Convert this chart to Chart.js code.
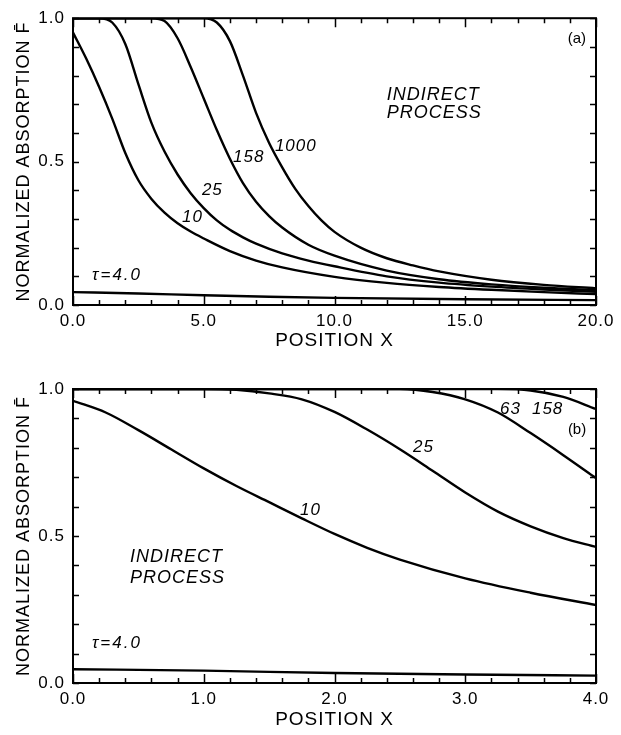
<!DOCTYPE html>
<html>
<head>
<meta charset="utf-8">
<title>Normalized absorption vs position</title>
<script src="https://cdn.jsdelivr.net/npm/chart.js@4.4.1/dist/chart.umd.min.js"></script>
<style>
  html, body { margin: 0; padding: 0; background: #fff; }
  canvas { display: block; }
</style>
</head>
<body>
<canvas id="chartA" width="621" height="360"></canvas>
<canvas id="chartB" width="621" height="375"></canvas>
<script>
// Panel (a): position 0..20
const a10X = [0, 0.5, 1, 1.5, 2, 2.5, 3, 3.5, 4, 4.5, 5, 6, 7, 8, 10, 12, 14, 16, 18, 20];
const a10Y = [0.95, 0.86, 0.76, 0.65, 0.53, 0.435, 0.37, 0.322, 0.285, 0.256, 0.232, 0.188, 0.155, 0.131, 0.098, 0.077, 0.063, 0.053, 0.045, 0.038];
const a25X = [0, 1, 1.5, 2, 2.5, 3, 3.5, 4, 4.5, 5, 5.5, 6, 6.5, 7, 8, 9, 10, 12, 14, 16, 18, 20];
const a25Y = [1, 1, 0.985, 0.91, 0.77, 0.635, 0.535, 0.455, 0.39, 0.338, 0.295, 0.262, 0.236, 0.214, 0.18, 0.155, 0.135, 0.1, 0.078, 0.064, 0.054, 0.046];
const a158X = [0, 3, 3.5, 4, 4.5, 5, 5.5, 6, 6.5, 7, 7.5, 8, 9, 10, 12, 14, 16, 18, 20];
const a158Y = [1, 1, 0.99, 0.93, 0.83, 0.72, 0.61, 0.51, 0.425, 0.36, 0.31, 0.27, 0.21, 0.172, 0.12, 0.09, 0.072, 0.06, 0.052];
const a1000X = [0, 5, 5.5, 6, 6.5, 7, 7.5, 8, 8.5, 9, 9.5, 10, 11, 12, 13, 14, 16, 18, 20];
const a1000Y = [1, 1, 0.985, 0.92, 0.8, 0.67, 0.565, 0.48, 0.405, 0.345, 0.295, 0.255, 0.2, 0.163, 0.138, 0.117, 0.088, 0.07, 0.058];
const aTauX = [0, 2.5, 5, 7.5, 10, 15, 20];
const aTauY = [0.045, 0.04, 0.034, 0.029, 0.025, 0.02, 0.017];
const aXLabels = [0, 5, 10, 15, 20];

// Panel (b): position 0..4
const b10X = [0, 0.25, 0.5, 0.75, 1, 1.25, 1.5, 1.75, 2, 2.25, 2.5, 3, 3.5, 4];
const b10Y = [0.96, 0.92, 0.86, 0.795, 0.73, 0.67, 0.615, 0.56, 0.507, 0.46, 0.42, 0.356, 0.307, 0.265];
const b25X = [0, 1, 1.25, 1.5, 1.75, 2, 2.25, 2.5, 2.75, 3, 3.25, 3.5, 3.75, 4];
const b25Y = [1, 1, 0.997, 0.985, 0.965, 0.922, 0.862, 0.795, 0.722, 0.648, 0.583, 0.533, 0.493, 0.463];
const b63X = [0, 2.5, 2.75, 3, 3.25, 3.5, 3.75, 4];
const b63Y = [1, 1, 0.99, 0.965, 0.92, 0.85, 0.775, 0.697];
const b158X = [0, 3.25, 3.5, 3.75, 4];
const b158Y = [1, 1, 0.995, 0.973, 0.932];
const bTauX = [0, 1, 2, 3, 4];
const bTauY = [0.047, 0.042, 0.034, 0.029, 0.025];
const bXLabels = [0, 1, 2, 3, 4];

const yLabels = [0, 0.5, 1];
const FONT = "'Liberation Sans', Arial, sans-serif";

Chart.defaults.font.family = FONT;
Chart.defaults.color = "#000";

// the old plot lettering is spaced out a little
const spacing = {
  id: "spacing",
  beforeDraw(chart) {
    chart.ctx.letterSpacing = "1px";
  },
};

// frame box with inward ticks on all four sides
const frameTicks = {
  id: "frameTicks",
  afterDatasetsDraw(chart, args, opts) {
    const { ctx, chartArea: a, scales } = chart;
    const x = scales.x, y = scales.y;
    ctx.save();
    ctx.strokeStyle = "#000";
    ctx.lineWidth = 1.5;
    ctx.beginPath();
    const nx = Math.round((x.max - x.min) / opts.xStep);
    for (let i = 0; i <= nx; i++) {
      const v = x.min + i * opts.xStep;
      const r = v / opts.xMajor;
      const len = Math.abs(r - Math.round(r)) < 1e-6 ? 9 : 5;
      const px = Math.round(x.getPixelForValue(v)) + 0.5;
      ctx.moveTo(px, a.bottom); ctx.lineTo(px, a.bottom - len);
      ctx.moveTo(px, a.top); ctx.lineTo(px, a.top + len);
    }
    const ny = Math.round((y.max - y.min) / opts.yStep);
    for (let i = 0; i <= ny; i++) {
      const v = y.min + i * opts.yStep;
      const py = Math.round(y.getPixelForValue(v)) + 0.5;
      ctx.moveTo(a.left, py); ctx.lineTo(a.left + 6, py);
      ctx.moveTo(a.right, py); ctx.lineTo(a.right - 6, py);
    }
    ctx.stroke();
    ctx.lineWidth = 2;
    ctx.strokeRect(a.left, a.top, a.right - a.left, a.bottom - a.top);
    ctx.restore();
  },
};

// text written inside the plot, placed in data units
const notes = {
  id: "notes",
  afterDatasetsDraw(chart, args, opts) {
    const { ctx, scales } = chart;
    ctx.save();
    ctx.fillStyle = "#000";
    ctx.textBaseline = "middle";
    opts.items.forEach((n) => {
      ctx.font = (n.italic ? "italic " : "") + n.size + "px " + FONT;
      ctx.letterSpacing = (n.spacing || 0) + "px";
      ctx.textAlign = n.align || "left";
      ctx.fillText(n.text, scales.x.getPixelForValue(n.x), scales.y.getPixelForValue(n.y));
    });
    ctx.restore();
  },
};

function makeSeries(xs, ys) {
  return {
    data: xs.map((x, i) => ({ x: x, y: ys[i] })),
    borderColor: "#000",
    borderWidth: 2.4,
    pointRadius: 0,
    fill: false,
    cubicInterpolationMode: "monotone",
  };
}

function buildChart(id, cfg) {
  return new Chart(document.getElementById(id), {
    type: "line",
    data: { datasets: cfg.series },
    options: {
      responsive: false,
      animation: false,
      layout: { padding: { top: cfg.padTop, right: 25, left: 0, bottom: 0 } },
      plugins: {
        legend: { display: false },
        tooltip: { enabled: false },
        frameTicks: { xStep: cfg.xStep, xMajor: cfg.xMajor, yStep: 0.1 },
        notes: { items: cfg.notes },
      },
      scales: {
        x: {
          type: "linear",
          min: 0,
          max: cfg.xMax,
          grid: { display: false, drawTicks: false },
          border: { display: false },
          afterBuildTicks: (s) => { s.ticks = cfg.xLabels.map((v) => ({ value: v })); },
          afterFit: (s) => { s.height = cfg.xAxisHeight; },
          ticks: {
            padding: 6,
            maxRotation: 0,
            autoSkip: false,
            font: { size: 17 },
            callback: (v) => v.toFixed(1),
          },
          title: {
            display: true,
            text: "POSITION X",
            font: { size: 19 },
            padding: { top: 0, bottom: cfg.titlePad },
          },
        },
        y: {
          min: 0,
          max: 1,
          grid: { display: false, drawTicks: false },
          border: { display: false },
          afterBuildTicks: (s) => { s.ticks = yLabels.map((v) => ({ value: v })); },
          afterFit: (s) => { s.width = 73; },
          ticks: {
            padding: 8,
            font: { size: 17 },
            callback: (v) => v.toFixed(1),
          },
          title: {
            display: true,
            text: "NORMALIZED ABSORPTION F\u0304",
            font: { size: 18 },
            padding: { top: 13, bottom: 0 },
          },
        },
      },
    },
    plugins: [spacing, frameTicks, notes],
  });
}

buildChart("chartA", {
  xMax: 20, xStep: 1, xMajor: 5, xLabels: aXLabels,
  padTop: 10, xAxisHeight: 55, titlePad: 8,
  series: [
    makeSeries(a10X, a10Y),
    makeSeries(a25X, a25Y),
    makeSeries(a158X, a158Y),
    makeSeries(a1000X, a1000Y),
    makeSeries(aTauX, aTauY),
  ],
  notes: [
    { text: "(a)", x: 19.27, y: 0.929, size: 15, align: "center" },
    { text: "INDIRECT", x: 12.0, y: 0.732, size: 18, italic: true, spacing: 1 },
    { text: "PROCESS", x: 12.0, y: 0.668, size: 18, italic: true, spacing: 1 },
    { text: "1000", x: 7.72, y: 0.553, size: 17, italic: true, spacing: 1 },
    { text: "158", x: 6.12, y: 0.515, size: 17, italic: true, spacing: 1 },
    { text: "25", x: 4.93, y: 0.40, size: 17, italic: true, spacing: 1 },
    { text: "10", x: 4.17, y: 0.305, size: 17, italic: true, spacing: 1 },
    { text: "\u03c4=4.0", x: 0.73, y: 0.102, size: 17, italic: true, spacing: 2 },
  ],
});

buildChart("chartB", {
  xMax: 4, xStep: 0.2, xMajor: 1, xLabels: bXLabels,
  padTop: 29, xAxisHeight: 52, titlePad: 4,
  series: [
    makeSeries(b10X, b10Y),
    makeSeries(b25X, b25Y),
    makeSeries(b63X, b63Y),
    makeSeries(b158X, b158Y),
    makeSeries(bTauX, bTauY),
  ],
  notes: [
    { text: "(b)", x: 3.855, y: 0.861, size: 15, align: "center" },
    { text: "158", x: 3.51, y: 0.932, size: 17, italic: true, spacing: 1 },
    { text: "63", x: 3.266, y: 0.93, size: 17, italic: true, spacing: 1 },
    { text: "25", x: 2.6, y: 0.803, size: 17, italic: true, spacing: 1 },
    { text: "10", x: 1.736, y: 0.588, size: 17, italic: true, spacing: 1 },
    { text: "INDIRECT", x: 0.436, y: 0.429, size: 18, italic: true, spacing: 1 },
    { text: "PROCESS", x: 0.436, y: 0.357, size: 18, italic: true, spacing: 1 },
    { text: "\u03c4=4.0", x: 0.145, y: 0.136, size: 17, italic: true, spacing: 2 },
  ],
});
</script>
</body>
</html>
